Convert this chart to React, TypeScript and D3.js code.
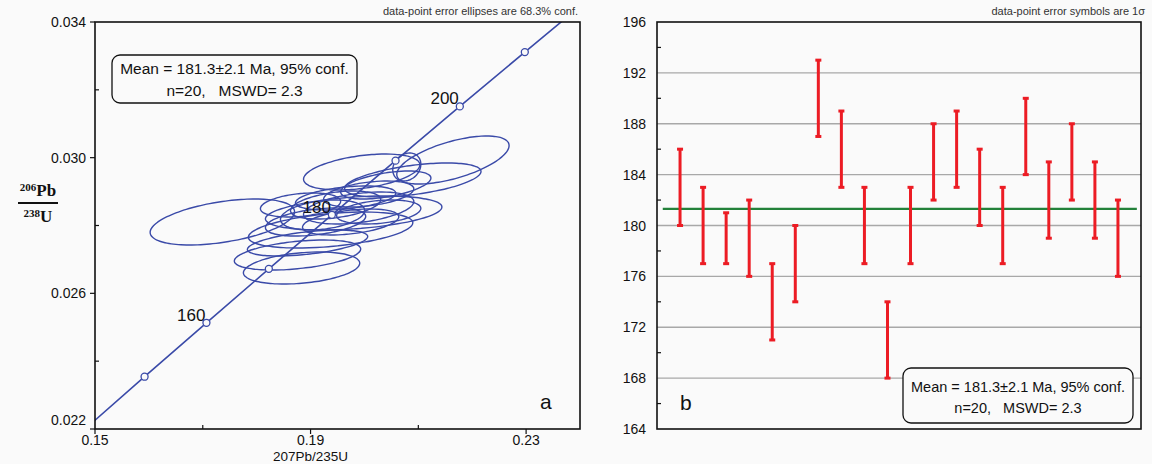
import React, { useRef, useEffect } from 'react';
import * as d3 from 'd3';

// concordia nodes (age in Ma, 207Pb/235U, 206Pb/238U)
const concAges = [140, 150, 160, 170, 180, 190, 200, 210, 220];
const concX = [0.14784, 0.1592, 0.17068, 0.18226, 0.19396, 0.20577, 0.2177, 0.22976, 0.24193];
const concY = [0.021955, 0.023542, 0.025131, 0.026722, 0.028316, 0.029912, 0.031511, 0.033113, 0.034717];
const concLabels = [160, 180, 200];

// error ellipses: centre, half-widths and correlation
const ellX = [0.17363, 0.18833, 0.18944, 0.18758, 0.21642, 0.20898, 0.20786, 0.19949, 0.198, 0.19372,
  0.19465, 0.19651, 0.19223, 0.19893, 0.19093, 0.20079, 0.20265, 0.20396, 0.18814, 0.19744];
const ellY = [0.028103, 0.026747, 0.027484, 0.02713, 0.029931, 0.029342, 0.029725, 0.029577, 0.028369, 0.027867,
  0.028604, 0.028811, 0.02831, 0.028516, 0.028103, 0.028929, 0.028398, 0.029194, 0.028604, 0.028103];
const ellSx = [0.013396, 0.010791, 0.011163, 0.011721, 0.010419, 0.012651, 0.002605, 0.010791, 0.016372, 0.015256,
  0.008372, 0.009303, 0.007814, 0.010233, 0.009303, 0.008372, 0.007814, 0.008372, 0.007442, 0.00893];
const ellSy = [0.000678, 0.000472, 0.000383, 0.000442, 0.000708, 0.000501, 0.000413, 0.000531, 0.000501, 0.000531,
  0.000413, 0.000354, 0.000442, 0.000472, 0.000413, 0.000383, 0.000354, 0.000413, 0.000354, 0.000383];
const ellRho = [0.45, 0.3, 0.5, 0.4, 0.6, 0.5, 0.2, 0.4, 0.35, 0.4,
  0.4, 0.4, 0.3, 0.4, 0.4, 0.4, 0.3, 0.5, 0.3, 0.4];

const xTicksA = [0.15, 0.17, 0.19, 0.21, 0.23];
const xLabelsA = [0.15, 0.19, 0.23];
const yTicksA = [0.022, 0.024, 0.026, 0.028, 0.03, 0.032, 0.034];
const yLabelsA = [0.022, 0.026, 0.03, 0.034];

// weighted mean plot: 1 sigma ranges (Ma)
const ageHigh = [186, 183, 181, 182, 177, 180, 193, 189, 183, 174, 183, 188, 189, 186, 183, 190, 185, 188, 185, 182];
const ageLow = [180, 177, 177, 176, 171, 174, 187, 183, 177, 168, 177, 182, 183, 180, 177, 184, 179, 182, 179, 176];
const meanAge = 181.3;
const yTicksB = [164, 168, 172, 176, 180, 184, 188, 192, 196];
const yMinorB = [166, 170, 174, 178, 182, 186, 190, 194];

const boxLines = ['Mean = 181.3\u00B12.1 Ma, 95% conf.', 'n=20,   MSWD= 2.3'];

const BLUE = '#3a4aa8';
const RED = '#ec1c24';
const FONT = '"Liberation Sans", Arial, sans-serif';

const App = () => {
  const svgRef = useRef(null);

  useEffect(() => {
    const svg = d3.select(svgRef.current);
    svg.selectAll('*').remove();

    svg.append('rect').attr('width', 1152).attr('height', 464).attr('fill', '#fafafa');

    // ---------- panel a : concordia ----------
    const a = { left: 95, right: 580, top: 22, bottom: 429 };
    const x = d3.scaleLinear().domain([0.15, 0.24]).range([a.left, a.right]);
    const y = d3.scaleLinear().domain([0.022, 0.034]).range([a.bottom, a.top]);

    svg.append('clipPath').attr('id', 'clipA')
      .append('rect').attr('x', a.left).attr('y', a.top)
      .attr('width', a.right - a.left).attr('height', a.bottom - a.top);

    const ga = svg.append('g').attr('clip-path', 'url(#clipA)');

    // ellipses
    const ellPath = (i) => {
      const pts = d3.range(0, 72).map(k => {
        const t = (k / 72) * 2 * Math.PI;
        const dx = ellSx[i] * Math.cos(t);
        const dy = ellSy[i] * (ellRho[i] * Math.cos(t) + Math.sqrt(1 - ellRho[i] ** 2) * Math.sin(t));
        return [x(ellX[i] + dx), y(ellY[i] + dy)];
      });
      return d3.line().curve(d3.curveCardinalClosed)(pts);
    };
    ga.selectAll('path.ell').data(ellX).enter().append('path')
      .attr('class', 'ell')
      .attr('d', (_, i) => ellPath(i))
      .attr('fill', 'none').attr('stroke', BLUE).attr('stroke-width', 1.4);

    // concordia curve
    const conc = concAges.map((age, i) => ({ age, cx: concX[i], cy: concY[i] }));
    ga.append('path')
      .attr('d', d3.line().x(d => x(d.cx)).y(d => y(d.cy)).curve(d3.curveMonotoneX)(conc))
      .attr('fill', 'none').attr('stroke', BLUE).attr('stroke-width', 1.6);

    ga.selectAll('circle.node').data(conc.filter(d => d.age >= 150 && d.age <= 210)).enter().append('circle')
      .attr('class', 'node')
      .attr('cx', d => x(d.cx)).attr('cy', d => y(d.cy)).attr('r', 3.5)
      .attr('fill', '#fafafa').attr('stroke', BLUE).attr('stroke-width', 1.3);

    svg.selectAll('text.age').data(conc.filter(d => concLabels.includes(d.age))).enter().append('text')
      .attr('class', 'age')
      .attr('x', d => x(d.cx) - 1).attr('y', d => y(d.cy) - 2)
      .attr('text-anchor', 'end').attr('font-family', FONT).attr('font-size', 17).attr('fill', '#111')
      .text(d => d.age);

    // frame
    svg.append('rect').attr('x', a.left).attr('y', a.top)
      .attr('width', a.right - a.left).attr('height', a.bottom - a.top)
      .attr('fill', 'none').attr('stroke', '#111').attr('stroke-width', 1.6);

    // x ticks
    svg.selectAll('line.xt').data(xTicksA).enter().append('line')
      .attr('x1', d => x(d)).attr('x2', d => x(d))
      .attr('y1', a.bottom).attr('y2', d => xLabelsA.includes(d) ? a.bottom + 5 : a.bottom - 4)
      .attr('stroke', '#111').attr('stroke-width', 1.2);
    svg.selectAll('text.xl').data(xLabelsA).enter().append('text')
      .attr('x', d => x(d)).attr('y', a.bottom + 16)
      .attr('text-anchor', 'middle').attr('font-family', FONT).attr('font-size', 14).attr('fill', '#111')
      .text(d => d3.format('.2f')(d));
    svg.append('text').attr('x', x(0.19)).attr('y', 461)
      .attr('text-anchor', 'middle').attr('font-family', FONT).attr('font-size', 13.5).attr('fill', '#111')
      .text('207Pb/235U');

    // y ticks
    svg.selectAll('line.yt').data(yTicksA).enter().append('line')
      .attr('y1', d => y(d)).attr('y2', d => y(d))
      .attr('x1', a.left).attr('x2', d => yLabelsA.includes(d) ? a.left - 5 : a.left + 4)
      .attr('stroke', '#111').attr('stroke-width', 1.2);
    svg.selectAll('text.yl').data(yLabelsA).enter().append('text')
      .attr('x', a.left - 9).attr('y', d => y(d) + (d === 0.022 ? -4 : 5))
      .attr('text-anchor', 'end').attr('font-family', FONT).attr('font-size', 14).attr('fill', '#111')
      .text(d => d3.format('.3f')(d));

    // y label 206Pb / 238U
    const lab = svg.append('g').attr('font-family', '"Liberation Serif", "Times New Roman", serif')
      .attr('font-weight', 'bold').attr('fill', '#111');
    const t1 = lab.append('text').attr('x', 38).attr('y', 196).attr('text-anchor', 'middle');
    t1.append('tspan').attr('font-size', 11).attr('dy', -5).text('206');
    t1.append('tspan').attr('font-size', 17).attr('dy', 5).text('Pb');
    lab.append('line').attr('x1', 18).attr('x2', 58).attr('y1', 203).attr('y2', 203)
      .attr('stroke', '#111').attr('stroke-width', 1.8);
    const t2 = lab.append('text').attr('x', 38).attr('y', 222).attr('text-anchor', 'middle');
    t2.append('tspan').attr('font-size', 11).attr('dy', -5).text('238');
    t2.append('tspan').attr('font-size', 17).attr('dy', 5).text('U');

    svg.append('text').attr('x', a.right - 2).attr('y', 15)
      .attr('text-anchor', 'end').attr('font-family', FONT).attr('font-size', 11).attr('fill', '#333')
      .text('data-point error ellipses are 68.3% conf.');

    // box
    svg.append('rect').attr('x', 112).attr('y', 55).attr('width', 245).attr('height', 48)
      .attr('rx', 8).attr('fill', '#fafafa').attr('stroke', '#111').attr('stroke-width', 1.3);
    svg.selectAll('text.boxa').data(boxLines).enter().append('text')
      .attr('x', 234.5).attr('y', (_, i) => 74 + i * 22)
      .attr('text-anchor', 'middle').attr('font-family', FONT).attr('font-size', 15.5).attr('fill', '#111')
      .style('white-space', 'pre')
      .text(d => d);

    svg.append('text').attr('x', 540).attr('y', 409).attr('font-family', FONT).attr('font-size', 21)
      .attr('fill', '#111').text('a');

    // ---------- panel b : weighted mean ----------
    const b = { left: 657, right: 1141, top: 22, bottom: 429 };
    const xb = d3.scaleLinear().domain([0, 21]).range([b.left, b.right]);
    const yb = d3.scaleLinear().domain([164, 196]).range([b.bottom, b.top]);

    svg.selectAll('line.grid').data(yTicksB.slice(1, -1)).enter().append('line')
      .attr('x1', b.left).attr('x2', b.right).attr('y1', d => yb(d)).attr('y2', d => yb(d))
      .attr('stroke', '#a8a8a8').attr('stroke-width', 1.3);

    svg.selectAll('line.ym').data(yMinorB).enter().append('line')
      .attr('x1', b.left).attr('x2', b.left + 4).attr('y1', d => yb(d)).attr('y2', d => yb(d))
      .attr('stroke', '#111').attr('stroke-width', 1.2);

    svg.selectAll('text.ybl').data(yTicksB).enter().append('text')
      .attr('x', b.left - 11).attr('y', d => yb(d) + 5)
      .attr('text-anchor', 'end').attr('font-family', FONT).attr('font-size', 14).attr('fill', '#111')
      .text(d => d);

    svg.append('line').attr('x1', xb(0.25)).attr('x2', xb(20.82))
      .attr('y1', yb(meanAge)).attr('y2', yb(meanAge))
      .attr('stroke', '#23813a').attr('stroke-width', 2.2);

    const bars = svg.selectAll('g.bar').data(ageHigh).enter().append('g').attr('class', 'bar');
    bars.append('line')
      .attr('x1', (_, i) => xb(i + 1)).attr('x2', (_, i) => xb(i + 1))
      .attr('y1', d => yb(d)).attr('y2', (_, i) => yb(ageLow[i]))
      .attr('stroke', RED).attr('stroke-width', 3);
    bars.append('rect')
      .attr('x', (_, i) => xb(i + 1) - 3).attr('y', d => yb(d) - 1.5).attr('width', 6).attr('height', 3)
      .attr('fill', RED);
    bars.append('rect')
      .attr('x', (_, i) => xb(i + 1) - 3).attr('y', (_, i) => yb(ageLow[i]) - 1.5).attr('width', 6).attr('height', 3)
      .attr('fill', RED);

    svg.append('rect').attr('x', b.left).attr('y', b.top)
      .attr('width', b.right - b.left).attr('height', b.bottom - b.top)
      .attr('fill', 'none').attr('stroke', '#111').attr('stroke-width', 1.6);

    svg.append('text').attr('x', 1145).attr('y', 15)
      .attr('text-anchor', 'end').attr('font-family', FONT).attr('font-size', 11).attr('fill', '#333')
      .text('data-point error symbols are 1\u03C3');

    svg.append('rect').attr('x', 903).attr('y', 368).attr('width', 230).attr('height', 55)
      .attr('rx', 8).attr('fill', '#fafafa').attr('stroke', '#111').attr('stroke-width', 1.3);
    svg.selectAll('text.boxb').data(boxLines).enter().append('text')
      .attr('x', 1018).attr('y', (_, i) => 392 + i * 21)
      .attr('text-anchor', 'middle').attr('font-family', FONT).attr('font-size', 14.5).attr('fill', '#111')
      .style('white-space', 'pre')
      .text(d => d);

    svg.append('text').attr('x', 680).attr('y', 410).attr('font-family', FONT).attr('font-size', 21)
      .attr('fill', '#111').text('b');
  }, []);

  return (
    <svg ref={svgRef} width={1152} height={464}
      style={{ position: 'absolute', left: 0, top: 0, display: 'block' }} />
  );
};

export default App;
